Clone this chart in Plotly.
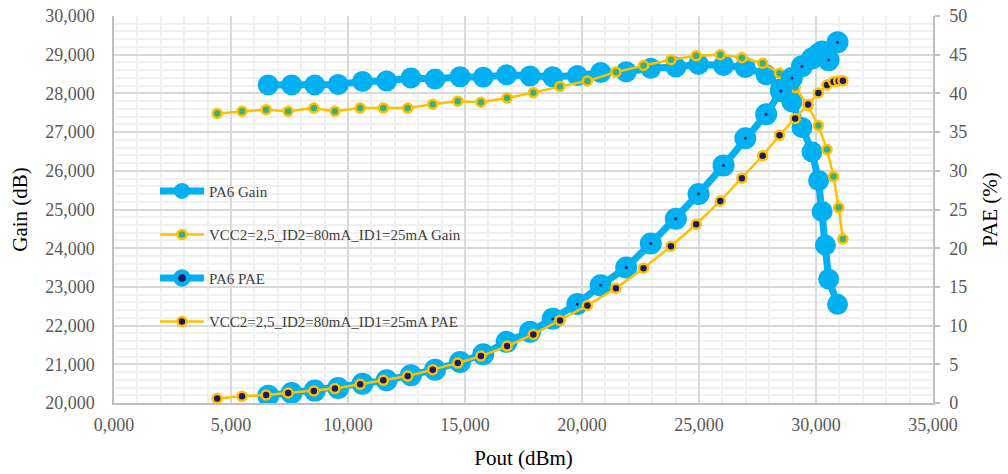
import plotly.graph_objects as go

# ---- data ----
pa6_pout = [6.59, 7.59, 8.58, 9.58, 10.62, 11.65, 12.69, 13.72, 14.79, 15.78,
            16.78, 17.78, 18.75, 19.80, 20.80, 21.89, 22.94, 24.01, 24.98, 26.05,
            26.98, 27.87, 28.50, 28.97, 29.40, 29.83, 30.11, 30.26, 30.40, 30.54, 30.92]
pa6_gain = [28.22, 28.22, 28.22, 28.23, 28.31, 28.32, 28.40, 28.37, 28.43, 28.42,
            28.48, 28.45, 28.43, 28.46, 28.54, 28.56, 28.65, 28.68, 28.75, 28.72,
            28.67, 28.48, 28.12, 27.78, 27.12, 26.49, 25.75, 24.95, 24.08, 23.20, 22.55]
pa6_pae = [0.95, 1.3, 1.6, 1.95, 2.5, 2.95, 3.6, 4.3, 5.3, 6.3,
           7.9, 9.2, 10.9, 12.8, 15.2, 17.5, 20.6, 23.8, 27.0, 30.7,
           34.2, 37.3, 40.3, 42.0, 43.5, 44.5, 45.1, 45.4, 45.0, 44.3, 46.6]

vcc_pout = [4.41, 5.47, 6.50, 7.44, 8.54, 9.44, 10.52, 11.51, 12.55, 13.62,
            14.69, 15.68, 16.80, 17.92, 19.06, 20.23, 21.45, 22.63, 23.80, 24.88,
            25.91, 26.83, 27.72, 28.44, 29.11, 29.66, 30.10, 30.47, 30.75, 30.97, 31.15]
vcc_gain = [27.48, 27.54, 27.58, 27.54, 27.62, 27.54, 27.62, 27.62, 27.62, 27.72,
            27.80, 27.77, 27.88, 28.02, 28.18, 28.32, 28.55, 28.72, 28.87, 28.97,
            29.00, 28.92, 28.78, 28.52, 28.15, 27.68, 27.17, 26.55, 25.85, 25.05, 24.24]
vcc_pae = [0.57, 0.86, 1.03, 1.29, 1.55, 1.86, 2.41, 2.93, 3.48, 4.31,
           5.16, 6.06, 7.35, 8.86, 10.67, 12.6, 14.84, 17.42, 20.26, 23.1,
           26.1, 29.05, 31.96, 34.6, 36.77, 38.58, 40.05, 41.08, 41.5, 41.6, 41.64]

names = ["PA6 Gain", "VCC2=2,5_ID2=80mA_ID1=25mA Gain",
         "PA6 PAE", "VCC2=2,5_ID2=80mA_ID1=25mA PAE"]

BLUE = "#00B0F0"
ORANGE = "#FFC000"
GREEN = "#3DAF7A"
NAVY = "#1F1A5C"
FONT = "Liberation Serif"

fig = go.Figure()
fig.add_trace(go.Scatter(x=pa6_pout, y=pa6_gain, name=names[0], mode="lines+markers",
                         line=dict(color=BLUE, width=7),
                         marker=dict(size=21, color=BLUE), legendgroup="a"))
fig.add_trace(go.Scatter(x=vcc_pout, y=vcc_gain, name=names[1], mode="lines+markers",
                         line=dict(color=ORANGE, width=2.5),
                         marker=dict(size=9, color=GREEN, line=dict(color=ORANGE, width=2.5)),
                         legendgroup="b"))
fig.add_trace(go.Scatter(x=pa6_pout, y=pa6_pae, name=names[2], mode="lines+markers",
                         line=dict(color=BLUE, width=7), yaxis="y2",
                         marker=dict(size=12.5, color=NAVY, line=dict(color=BLUE, width=9.5)),
                         legendgroup="c"))
fig.add_trace(go.Scatter(x=vcc_pout, y=vcc_pae, name=names[3], mode="lines+markers",
                         line=dict(color=ORANGE, width=2.5), yaxis="y2",
                         marker=dict(size=9, color=NAVY, line=dict(color=ORANGE, width=2.5)),
                         legendgroup="d"))

tickfont = dict(family=FONT, size=18, color="#595959")
titlefont = dict(family=FONT, size=21, color="#000000")

fig.update_layout(
    width=1008, height=474,
    margin=dict(l=114, r=75, t=16, b=71, autoexpand=False),
    paper_bgcolor="white", plot_bgcolor="white",
    separators=",.",
    font=dict(family=FONT),
    showlegend=True,
    legend=dict(x=0.05, y=0.59, xanchor="left", yanchor="top",
                bgcolor="rgba(0,0,0,0)", font=dict(family=FONT, size=15, color="#404040"),
                tracegroupgap=21, itemwidth=44),
    xaxis=dict(range=[0, 35], dtick=5, tick0=0, tickformat=".3f",
               showgrid=True, gridcolor="#D9D9D9", gridwidth=1.5,
               minor=dict(dtick=1, showgrid=True, gridcolor="#F0F0F0", gridwidth=1.5),
               showline=True, linecolor="#BFBFBF", linewidth=1.5,
               zeroline=False, ticks="", tickfont=tickfont, ticklabelstandoff=5,
               title=dict(text="Pout (dBm)", font=titlefont, standoff=16)),
    yaxis=dict(range=[20, 30], dtick=1, tick0=20, tickformat=".3f",
               showgrid=True, gridcolor="#D9D9D9", gridwidth=1.5,
               minor=dict(dtick=0.2, showgrid=True, gridcolor="#F0F0F0", gridwidth=1.5),
               showline=True, linecolor="#BFBFBF", linewidth=1.5,
               zeroline=False, ticks="", tickfont=tickfont, ticklabelstandoff=14,
               title=dict(text="Gain (dB)", font=titlefont, standoff=12)),
    yaxis2=dict(range=[0, 50], dtick=5, tick0=0, overlaying="y", side="right",
                showgrid=False, zeroline=False,
                showline=True, linecolor="#BFBFBF", linewidth=1.5,
                ticks="outside", ticklen=5, tickcolor="#BFBFBF", tickwidth=1.5,
                tickfont=tickfont, ticklabelstandoff=6,
                title=dict(text="PAE (%)", font=titlefont, standoff=16)),
)

fig.write_html("out.html", config={"displayModeBar": False},
               post_script="document.body.style.margin='0';document.body.style.overflow='hidden';")
